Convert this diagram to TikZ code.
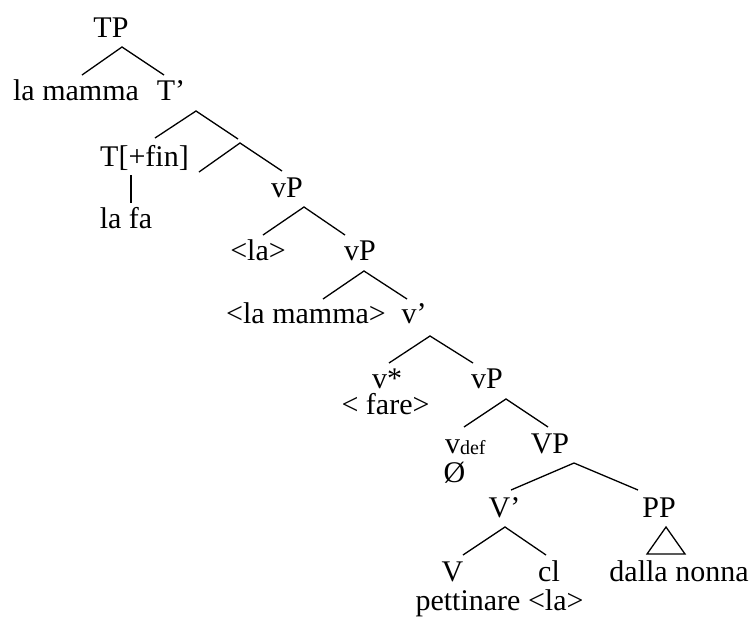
\documentclass[tikz,border=0pt]{standalone}
\usepackage{fontspec}
\setmainfont{Liberation Serif}
\tikzset{
  lbl/.style={inner sep=0pt, outer sep=0pt, anchor=base, font=\fontsize{30}{36}\selectfont},
  branch/.style={line width=1.3pt, line join=miter},
}
\begin{document}
\begin{tikzpicture}[x=1pt, y=-1pt]
\useasboundingbox (0,0) rectangle (754,619);

% labels
\node[lbl] (TP)    at (111,37)  {TP};
\node[lbl] (spec)  at (76,100)  {la mamma};
\node[lbl] (Tbar)  at (171,100) {T’};
\node[lbl] (Tfin)  at (144.5,166) {T[+fin]};
\node[lbl] (lafa)  at (126,228) {la fa};
\node[lbl] (vP1)   at (287,197) {vP};
\node[lbl] (la1)   at (258,260) {<la>};
\node[lbl] (vP2)   at (360,260) {vP};
\node[lbl] (mamma) at (306,323) {<la mamma>};
\node[lbl] (vbar)  at (414,323) {v’};
\node[lbl] (vstar) at (387,388) {v*};
\node[lbl] (vP3)   at (487,388) {vP};
\node[lbl] (fare)  at (385.5,414) {< fare>};
\node[lbl, anchor=base west] (vdef) at (445,453) {v\raisebox{-1pt}{\fontsize{20}{24}\selectfont def}};
\node[lbl] (VP)    at (550,453) {VP};
\node[lbl] (empty) at (454.5,482) {Ø};
\node[lbl] (Vbar)  at (504.5,517) {V’};
\node[lbl] (PP)    at (659,517) {PP};
\node[lbl] (V)     at (452.5,581) {V};
\node[lbl] (cl)    at (549,581) {cl};
\node[lbl] (nonna) at (679,581) {dalla nonna};
\node[lbl] (pett)  at (499.5,610) {pettinare <la>};

% branching points
\coordinate (TPa)  at (122,47);  \coordinate (TPl)  at (82,75);   \coordinate (TPr)  at (164,75);
\coordinate (Tba)  at (196,111); \coordinate (Tbl)  at (155,138); \coordinate (Tbr)  at (238,139);
\coordinate (Xa)   at (240,143); \coordinate (Xl)   at (199,172); \coordinate (Xr)   at (282,171);
\coordinate (Tft)  at (131,175); \coordinate (Tfb)  at (131,203);
\coordinate (vAa)  at (304,207); \coordinate (vAl)  at (263,235); \coordinate (vAr)  at (345,235);
\coordinate (vBa)  at (364,271); \coordinate (vBl)  at (323,299); \coordinate (vBr)  at (407,299);
\coordinate (vba)  at (430,336); \coordinate (vbl)  at (389,363); \coordinate (vbr)  at (473,363);
\coordinate (vCa)  at (506,399); \coordinate (vCl)  at (464,427); \coordinate (vCr)  at (548,427);
\coordinate (VPa)  at (574,463); \coordinate (VPl)  at (511,490); \coordinate (VPr)  at (638,490);
\coordinate (Vba)  at (505,527); \coordinate (Vbl)  at (463,555); \coordinate (Vbr)  at (546,555);
\coordinate (PPa)  at (666,527); \coordinate (PPl)  at (647,554); \coordinate (PPr)  at (685,554);

% branches
\draw[branch] (TPl) -- (TPa) -- (TPr);
\draw[branch] (Tbl) -- (Tba) -- (Tbr);
\draw[branch] (Xl) -- (Xa) -- (Xr);
\draw[branch] (Tft) -- (Tfb);
\draw[branch] (vAl) -- (vAa) -- (vAr);
\draw[branch] (vBl) -- (vBa) -- (vBr);
\draw[branch] (vbl) -- (vba) -- (vbr);
\draw[branch] (vCl) -- (vCa) -- (vCr);
\draw[branch] (VPl) -- (VPa) -- (VPr);
\draw[branch] (Vbl) -- (Vba) -- (Vbr);
\draw[branch] (PPl) -- (PPa) -- (PPr) -- cycle;
\end{tikzpicture}
\end{document}
